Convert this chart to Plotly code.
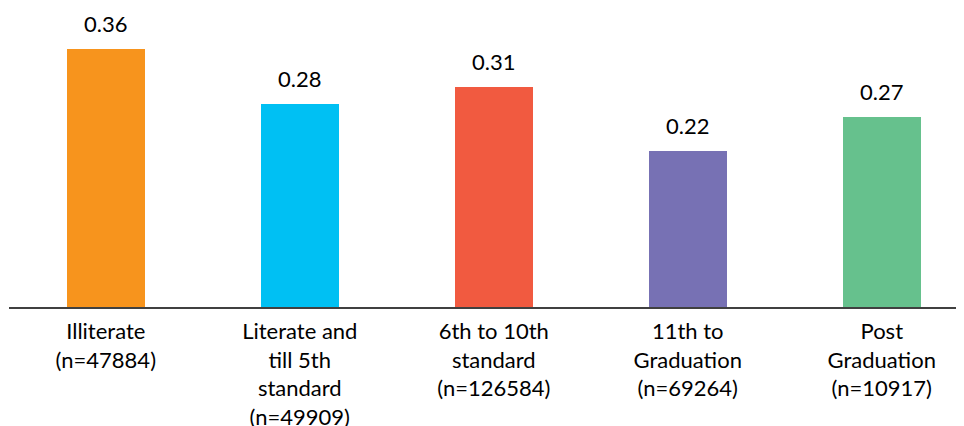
import plotly.graph_objects as go

categories = [
    "Illiterate<br>(n=47884)",
    "Literate and<br>till 5th<br>standard<br>(n=49909)",
    "6th to 10th<br>standard<br>(n=126584)",
    "11th to<br>Graduation<br>(n=69264)",
    "Post<br>Graduation<br>(n=10917)",
]
values = [0.36, 0.284, 0.307, 0.218, 0.265]
colors = ["#F7941D", "#00C0F3", "#F15A40", "#7771B4", "#66C18D"]

FONT = "Lato"

fig = go.Figure()
fig.add_trace(go.Bar(
    x=list(range(len(categories))),
    y=values,
    width=0.4,
    marker=dict(color=colors, line=dict(width=0)),
    hoverinfo="skip",
))

for i, v in enumerate(values):
    fig.add_annotation(
        x=i, y=v, text=f"{v:.2f}", showarrow=False,
        yanchor="bottom", yshift=10,
        font=dict(family=FONT, size=22, color="#000000"),
    )

fig.update_layout(
    width=956, height=418,
    margin=dict(l=1, r=0, t=0, b=119),
    plot_bgcolor="white", paper_bgcolor="white",
    showlegend=False,
    font=dict(family=FONT, size=22, color="#000000"),
    bargap=0,
)
fig.update_xaxes(
    tickmode="array",
    tickvals=list(range(len(categories))),
    ticktext=categories,
    range=[-0.499, 4.424],
    showline=True, linecolor="#404040", linewidth=1.5,
    showgrid=False, zeroline=False, ticks="",
    tickangle=0, automargin=False,
    ticklabelstandoff=4,
    tickfont=dict(family=FONT, size=22, color="#000000"),
)
fig.update_yaxes(
    range=[0, 0.4177],
    showgrid=False, zeroline=False, showticklabels=False,
    showline=False, ticks="",
)

fig.write_html("out.html")
